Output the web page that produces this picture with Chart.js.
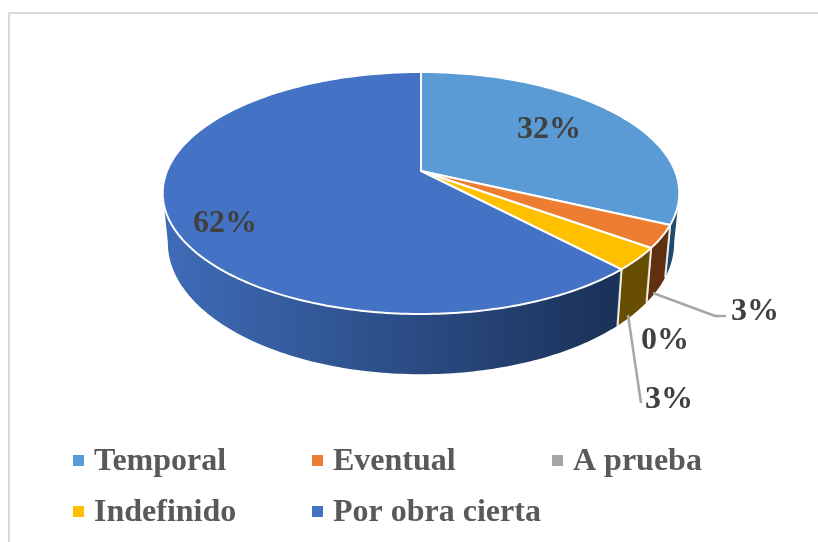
<!DOCTYPE html>
<html>
<head>
<meta charset="utf-8">
<script src="https://cdn.jsdelivr.net/npm/chart.js@4/dist/chart.umd.min.js"></script>
<style>
    body { margin: 0; background: #fff; }
    canvas { display: block; }
</style>
</head>
<body>
<canvas id="chart" width="818" height="542"></canvas>
<script>
const categories = ['Temporal', 'Eventual', 'A prueba', 'Indefinido', 'Por obra cierta'];
const percents = [32, 3, 0, 3, 62];
const topColors = ['#5b9bd5', '#ed7d31', '#a5a5a5', '#ffc000', '#4472c4'];
// side wall colours, left to right across the pie
const wallColors = [
    ['#2c6190', '#1f4a70'],
    ['#7a3e16', '#5e2f10'],
    ['#636363', '#636363'],
    ['#7a5c00', '#664c00'],
    ['#3f6cb8', '#15294b']
];

const serif = '"Liberation Serif", "Times New Roman", serif';

// where each percent label sits (centre of the text)
const labelSpots = [[549, 130], [755, 312], [665, 341], [669, 400], [225, 224]];
const leaderLines = [
    [[653, 293], [715, 316], [726, 316]],
    [[628, 315], [641, 403]]
];
const legendSpots = [[73, 460], [312, 460], [552, 460], [73, 511], [312, 511]];

// fake perspective: top face and bottom face of the disc
const TOP_FACE = { lift: -100, squash: 117 / 254, scale: 1 };
const BOTTOM_FACE = { lift: -52, squash: 127 / 254, scale: 0.98 };
const PERSPECTIVE = 0.1818;

function facePoint(arc, angle, face) {
    const x = Math.cos(angle);
    const y = Math.sin(angle);
    const w = 1 - PERSPECTIVE * y;
    return [
        arc.x + arc.outerRadius * face.scale * x / w,
        arc.y + face.lift + arc.outerRadius * face.squash * y / w
    ];
}

function traceEdge(ctx, arc, from, to, face) {
    const steps = Math.max(2, Math.ceil(Math.abs(to - from) * 60));
    for (let i = 0; i <= steps; i++) {
        const p = facePoint(arc, from + (to - from) * i / steps, face);
        ctx.lineTo(p[0], p[1]);
    }
}

const pie3d = {
    id: 'pie3d',
    beforeDraw(chart) {
        const ctx = chart.ctx;
        ctx.save();
        ctx.strokeStyle = '#d9d9d9';
        ctx.lineWidth = 2;
        ctx.beginPath();
        ctx.moveTo(9, 542);
        ctx.lineTo(9, 13);
        ctx.lineTo(818, 13);
        ctx.stroke();
        ctx.restore();
    },
    beforeDatasetsDraw(chart) {
        const ctx = chart.ctx;
        const arcs = chart.getDatasetMeta(0).data;
        ctx.save();
        ctx.lineJoin = 'round';

        // Side walls first, only the part facing the viewer
        const wallFrom = 0.18;
        const wallTo = Math.PI - 0.18;
        arcs.forEach(function(arc, i) {
            const from = Math.max(arc.startAngle, wallFrom);
            const to = Math.min(arc.endAngle, wallTo);
            if (to <= from) return;
            const grad = ctx.createLinearGradient(163, 0, 679, 0);
            grad.addColorStop(0, wallColors[i][0]);
            grad.addColorStop(1, wallColors[i][1]);
            ctx.beginPath();
            traceEdge(ctx, arc, from, to, TOP_FACE);
            traceEdge(ctx, arc, to, from, BOTTOM_FACE);
            ctx.closePath();
            ctx.fillStyle = grad;
            ctx.fill();
            // thin light seams between the slices
            ctx.strokeStyle = 'rgba(255,255,255,0.8)';
            ctx.lineWidth = 2;
            [from, to].forEach(function(a) {
                if (a === wallFrom || a === wallTo) return;
                const p = facePoint(arc, a, TOP_FACE);
                const q = facePoint(arc, a, BOTTOM_FACE);
                ctx.beginPath();
                ctx.moveTo(p[0], p[1]);
                ctx.lineTo(q[0], q[1]);
                ctx.stroke();
            });
        });

        // Top faces
        arcs.forEach(function(arc, i) {
            if (arc.endAngle - arc.startAngle <= 0) return;
            const c = facePoint(arc, 0, { lift: TOP_FACE.lift, squash: 0, scale: 0 });
            ctx.beginPath();
            ctx.moveTo(c[0], c[1]);
            traceEdge(ctx, arc, arc.startAngle, arc.endAngle, TOP_FACE);
            ctx.closePath();
            ctx.fillStyle = topColors[i];
            ctx.fill();
            ctx.strokeStyle = '#ffffff';
            ctx.lineWidth = 2;
            ctx.stroke();
        });
        ctx.restore();
        return false;
    },
    afterDraw(chart) {
        const ctx = chart.ctx;
        ctx.save();

        // Leader lines
        ctx.strokeStyle = '#a6a6a6';
        ctx.lineWidth = 2.5;
        leaderLines.forEach(function(line) {
            ctx.beginPath();
            line.forEach(function(p, i) {
                if (i === 0) ctx.moveTo(p[0], p[1]);
                else ctx.lineTo(p[0], p[1]);
            });
            ctx.stroke();
        });

        // Percent labels
        ctx.font = 'bold 32px ' + serif;
        ctx.fillStyle = '#404040';
        ctx.textAlign = 'center';
        ctx.textBaseline = 'middle';
        percents.forEach(function(p, i) {
            ctx.fillText(p + '%', labelSpots[i][0], labelSpots[i][1]);
        });

        // Legend
        ctx.textAlign = 'left';
        categories.forEach(function(name, i) {
            const spot = legendSpots[i];
            ctx.fillStyle = topColors[i];
            ctx.fillRect(spot[0], spot[1] - 5, 11, 11);
            ctx.fillStyle = '#595959';
            ctx.fillText(name, spot[0] + 21, spot[1] + 2);
        });
        ctx.restore();
    }
};

new Chart(document.getElementById('chart'), {
    type: 'pie',
    data: {
        labels: categories,
        datasets: [{ data: percents, backgroundColor: topColors, borderWidth: 0 }]
    },
    options: {
        responsive: false,
        animation: false,
        events: [],
        layout: { padding: { left: 167, right: 143, top: 17, bottom: 17 } },
        plugins: { legend: { display: false }, tooltip: { enabled: false } }
    },
    plugins: [pie3d]
});
</script>
</body>
</html>
